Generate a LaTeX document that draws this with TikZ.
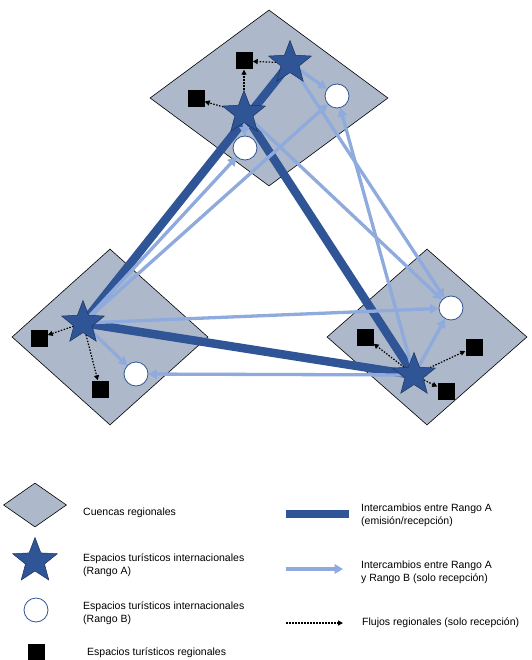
\documentclass[tikz,border=0pt]{standalone}
\usepackage{fontspec}
\setmainfont{Liberation Sans}
\usetikzlibrary{shapes.geometric, arrows.meta}
\definecolor{colCuenca}{RGB}{173,185,202}
\definecolor{colA}{RGB}{47,85,151}
\definecolor{colB}{RGB}{143,170,220}
\pgfdeclarelayer{fondo}
\pgfdeclarelayer{flujos}
\pgfsetlayers{fondo,flujos,main}
\tikzset{
  cuenca/.style={diamond, draw=black, fill=colCuenca, line width=0.6pt, inner sep=0pt, aspect=1.35},
  rangoA/.style={star, star points=5, star point ratio=2.35, fill=colA, draw=colA!60!black, line width=0.5pt, inner sep=0pt, minimum size=45pt},
  rangoB/.style={circle, draw=colA, fill=white, line width=0.8pt, inner sep=0pt, minimum size=24pt},
  regional/.style={rectangle, fill=black, inner sep=0pt, minimum size=17pt},
  intA/.style={colA, line width=8.5pt},
  intB/.style={colB, line width=3.3pt, -{Triangle[length=8.5pt,width=9.5pt]}},
  flujo/.style={black, line width=1.2pt, dash pattern=on 1.5pt off 1.5pt, -{Triangle[length=5pt,width=5pt]}},
  leyenda/.style={anchor=west, align=left, inner sep=0pt, font=\fontsize{10.5}{13.5}\selectfont},
}

\begin{document}
\begin{tikzpicture}[x=1pt, y=-1pt]
\useasboundingbox (0,0) rectangle (531,660);

\begin{pgfonlayer}{fondo}
\node[cuenca, minimum width=238pt, minimum height=176pt] (Ktop) at (269,98) {};
\node[cuenca, minimum width=196pt, minimum height=176pt] (Kleft) at (110,337) {};
\node[cuenca, minimum width=200pt, minimum height=176pt] (Kright) at (427,337) {};
\end{pgfonlayer}

% cuenca superior
\node[rangoA] (A1) at (290,63) {};
\node[rangoA] (A2) at (244,113) {};
\node[rangoB] (B1) at (337,96) {};
\node[rangoB] (B2) at (245,148) {};
\node[regional] (R1) at (244,61) {};
\node[regional] (R2) at (196,99) {};

% cuenca izquierda
\node[rangoA] (LA) at (83,323) {};
\node[rangoB] (LB) at (136,374) {};
\node[regional] (LR1) at (39,338) {};
\node[regional] (LR2) at (100,389) {};

% cuenca derecha
\node[rangoA] (DA) at (414,375) {};
\node[rangoB] (DB) at (451,308) {};
\node[regional] (DR1) at (365,337) {};
\node[regional] (DR2) at (474,347) {};
\node[regional] (DR3) at (446,391) {};

\begin{pgfonlayer}{flujos}
\draw[intA] (LA.center) -- (A1.center);
\draw[intA] (A2.center) -- (DA.center);
\draw[intA] (LA.center) -- (DA.center);

\draw[intB] (A1.center) -- (B1);
\draw[intB] (A2.center) -- (B2);
\draw[intB] (LA.center) -- (B2);
\draw[intB] (LA.center) -- (B1);
\draw[intB] (A1.center) -- (DB);
\draw[intB] (A2.center) -- (DB);
\draw[intB] (DA.center) -- (B1);
\draw[intB] (LA.center) -- (DB);
\draw[intB] (DA.center) -- (LB);
\draw[intB] (LA.center) -- (LB);
\draw[intB] (DA.center) -- (DB);

\draw[flujo] (A1) -- (R1);
\draw[flujo] (A2) -- (R1);
\draw[flujo] (A2) -- (R2);
\draw[flujo] (LA) -- (LR1);
\draw[flujo] (LA) -- (LR2);
\draw[flujo] (DA) -- (DR1);
\draw[flujo] (DA) -- (DR2);
\draw[flujo] (DA) -- (DR3);
\end{pgfonlayer}

% leyenda
\node[cuenca, minimum width=63pt, minimum height=44pt] (legK) at (35,505) {};
\node[rangoA, minimum size=47pt] (legA) at (35,561) {};
\node[rangoB] (legB) at (36,610) {};
\node[regional] (legR) at (36,652) {};
\node[leyenda] (tK) at (83,513) {Cuencas regionales};
\node[leyenda] (tA) at (83,565) {Espacios turísticos internacionales\\(Rango A)};
\node[leyenda] (tB) at (83,613) {Espacios turísticos internacionales\\(Rango B)};
\node[leyenda] (tR) at (87,653) {Espacios turísticos regionales};

\coordinate (l1a) at (286,514);
\coordinate (l1b) at (349,514);
\coordinate (l2a) at (286,569);
\coordinate (l2b) at (343,569);
\coordinate (l3a) at (286,623);
\coordinate (l3b) at (343,623);
\draw[intA] (l1a) -- (l1b);
\draw[intB] (l2a) -- (l2b);
\draw[flujo] (l3a) -- (l3b);
\node[leyenda] (tI1) at (361,515.5) {Intercambios entre Rango A\\(emisión/recepción)};
\node[leyenda] (tI2) at (361,572.5) {Intercambios entre Rango A\\y Rango B (solo recepción)};
\node[leyenda] (tF) at (362,623) {Flujos regionales (solo recepción)};
\end{tikzpicture}
\end{document}
